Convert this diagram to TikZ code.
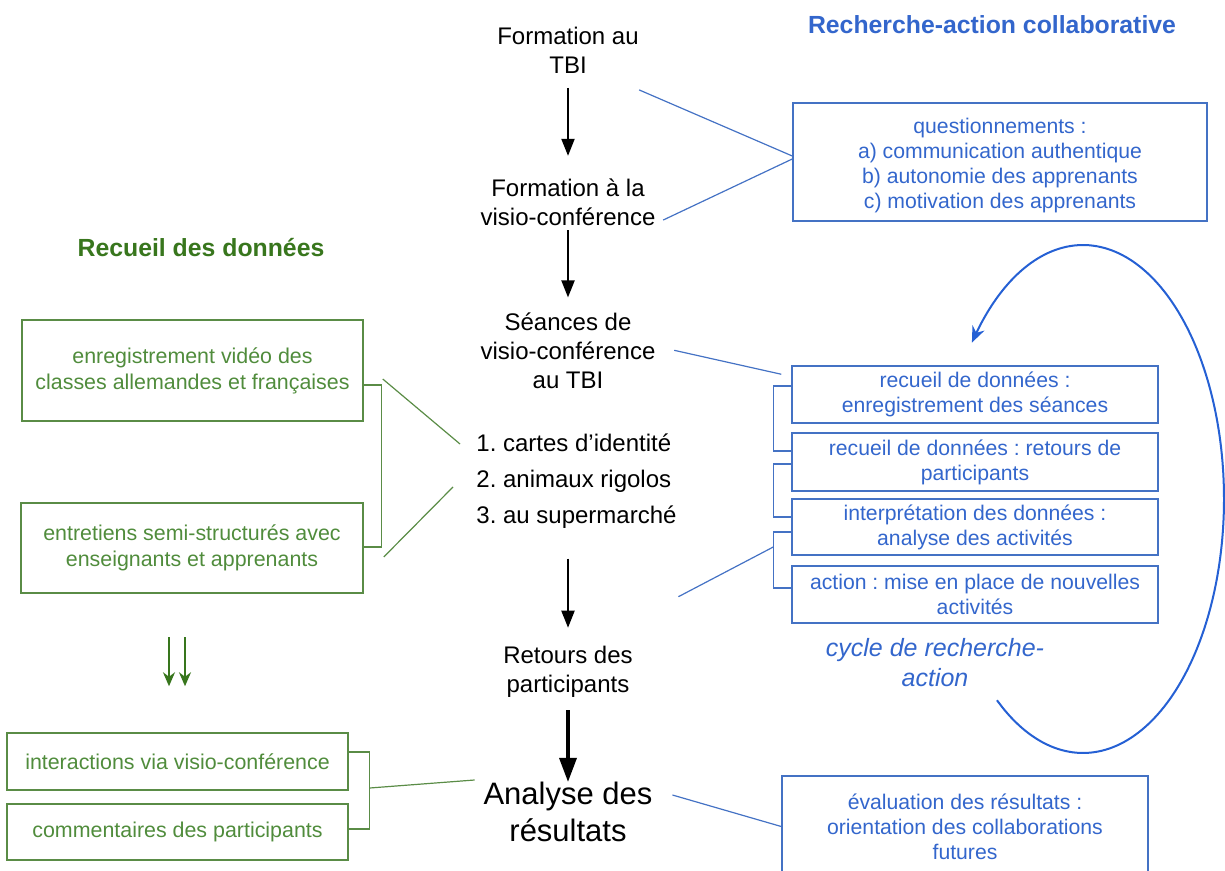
\documentclass[tikz,border=0pt]{standalone}
\usepackage{fontspec}
\setmainfont{Liberation Sans}
\usepackage{xcolor}
\usetikzlibrary{arrows.meta, positioning}
\frenchspacing

\definecolor{bleu}{RGB}{51,102,204}
\definecolor{bleutrait}{RGB}{68,114,196}
\definecolor{bleuvif}{RGB}{37,96,212}
\definecolor{vert}{RGB}{56,118,29}
\definecolor{verttexte}{RGB}{80,140,60}
\definecolor{verttrait}{RGB}{90,140,70}

\begin{document}
\begin{tikzpicture}[
		x=0.5pt, y=-0.5pt,
		etape/.style={inner sep=0pt, align=center, font=\fontsize{12}{14.5}\selectfont},
		titre/.style={inner sep=0pt, font=\fontsize{12.4}{15}\selectfont\bfseries},
		bleubox/.style={rectangle, draw=bleutrait, line width=0.75pt, text=bleu, align=center, inner sep=0pt, minimum width=183pt, font=\fontsize{10.6}{12.5}\selectfont},
		vertbox/.style={rectangle, draw=verttrait, line width=0.75pt, text=verttexte, align=center, inner sep=0pt, minimum width=170.5pt, font=\fontsize{10.7}{13}\selectfont},
		fleche/.style={-{Triangle[length=8.5pt, width=6.5pt]}, line width=1pt},
		flechevert/.style={-{Stealth[length=7pt, width=6pt]}, draw=vert, fill=vert, line width=1pt},
		lienbleu/.style={draw=bleutrait, line width=0.6pt},
		lienvert/.style={draw=verttrait, line width=0.6pt}
		]
		\clip (0,0) rectangle (1225,871);
		
		% Titres
		\node[titre, text=bleu] (titrebleu) at (992,25) {Recherche-action collaborative};
		\node[titre, text=vert] (titrevert) at (201,248) {Recueil des données};
		
		% Colonne centrale
		\node[etape] (form1) at (568,50.3) {Formation au\\TBI};
		\node[etape] (form2) at (568,202.2) {Formation à la\\visio-conférence};
		\node[etape] (seances) at (568,350.3) {Séances de\\visio-conférence\\au TBI};
		\node[etape, align=left, anchor=west, font=\fontsize{12}{18}\selectfont] (liste) at (476,480.8) {1. cartes d’identité\\2. animaux rigolos\\3. au supermarché};
		\node[etape] (retours) at (568,671.3) {Retours des\\participants};
		\node[etape, font=\fontsize{15.5}{18.5}\selectfont] (analyse) at (568,812.2) {Analyse des\\résultats};
		
		\draw[fleche, shorten <=7pt, shorten >=11.25pt] (form1) -- (form2);
		\draw[fleche, shorten <=2pt, shorten >=7.25pt] (form2) -- (seances);
		\draw[fleche, shorten <=15pt, shorten >=8.75pt] (retours.north |- liste.south) -- (retours);
		\draw[fleche, line width=1.7pt, -{Triangle[length=12pt, width=8.5pt]}, shorten <=6.5pt] (retours) -- (analyse);
		
		% Recherche-action
		\node[bleubox, minimum width=207pt, minimum height=59pt] (quest) at (1000,162) {\rule{0pt}{11pt}questionnements :\\a) communication authentique\\b) autonomie des apprenants\\c) motivation des apprenants};
		\node[bleubox, minimum height=28.5pt] (c1) at (975,394.5) {recueil de données :\\enregistrement des séances};
		\node[bleubox, minimum height=29pt] (c2) at (975,462) {recueil de données : retours de\\participants};
		\node[bleubox, minimum height=28pt] (c3) at (975,527) {interprétation des données :\\analyse des activités};
		\node[bleubox, minimum height=28.5pt] (c4) at (975,594.5) {action : mise en place de nouvelles\\activités};
		\node[inner sep=0pt, align=center, text=bleu, font=\fontsize{12.5}{15}\selectfont\itshape] (cycletxt) at (935,663) {cycle de recherche-\\action};
		\node[bleubox, minimum height=50.5pt] (eval) at (965,826.5) {évaluation des résultats :\\orientation des collaborations\\futures};
		
		\draw[lienbleu] ([yshift=-8pt]form1.south east) -- ([yshift=3pt]quest.west);
		\draw[lienbleu] ([shift={(3.7pt,3pt)}]form2.south east) -- ([yshift=1.5pt]quest.west);
		\draw[lienbleu] ([xshift=9.2pt]seances.east) -- ([shift={(-5pt,-4.5pt)}]c1.north west);
		\draw[lienbleu] ([yshift=4.25pt]c1.west) -- ++(-9pt,0) |- ([yshift=5.5pt]c2.west);
		\draw[lienbleu] ([yshift=-1pt]c2.west) -- ++(-9pt,0) |- ([yshift=5pt]c3.west);
		\draw[lienbleu] ([yshift=-2.5pt]c3.west) -- ++(-9pt,0) coordinate (b3) |- ([yshift=3.25pt]c4.west);
		\draw[lienbleu] ([shift={(22.65pt,24.25pt)}]retours.north east) -- ([yshift=-7.5pt]b3);
		\draw[lienbleu] ([shift={(9.8pt,8.6pt)}]analyse.east) -- (eval.west);
		
		% cycle
		\draw[draw=bleuvif, line width=1pt, {Stealth[length=8pt, width=6.5pt]}-] plot[domain=-142:127.6, samples=90, smooth] ({1083+141*cos(\x)},{499+254*sin(\x)});
		
		% Recueil des données
		\node[vertbox, minimum height=50.5pt] (v1) at (192.5,370.5) {enregistrement vidéo des\\classes allemandes et françaises};
		\node[vertbox, minimum width=171pt, minimum height=45pt] (v2) at (192,548) {entretiens semi-structurés avec\\enseignants et apprenants};
		\node[vertbox, minimum height=28.5pt] (v3) at (177.5,761.5) {interactions via visio-conférence};
		\node[vertbox, minimum height=28pt] (v4) at (177.5,832) {commentaires des participants};
		
		\draw[lienvert] ([yshift=-7.25pt]v1.east) -- ++(9pt,0) |- ([yshift=0.5pt]v2.east);
		\draw[lienvert] ([shift={(9.5pt,-4.25pt)}]v1.east) -- ([shift={(-8pt,18.4pt)}]liste.west);
		\draw[lienvert] ([shift={(10pt,-4.5pt)}]v2.east) -- ([shift={(-11.5pt,-3.1pt)}]liste.west);
		\foreach \dx in {-4.25pt,3.75pt}
			\draw[flechevert] ([shift={(\dx,47.5pt)}]v3.north) -- ([shift={(\dx,23pt)}]v3.north);
		\draw[lienvert] ([yshift=4.75pt]v3.east) -- ++(10.5pt,0) coordinate (g2) |- ([yshift=1.5pt]v4.east);
		\draw[lienvert] ([yshift=-18pt]g2) -- ([shift={(-4.3pt,16.1pt)}]analyse.west);
	\end{tikzpicture}
\end{document}
